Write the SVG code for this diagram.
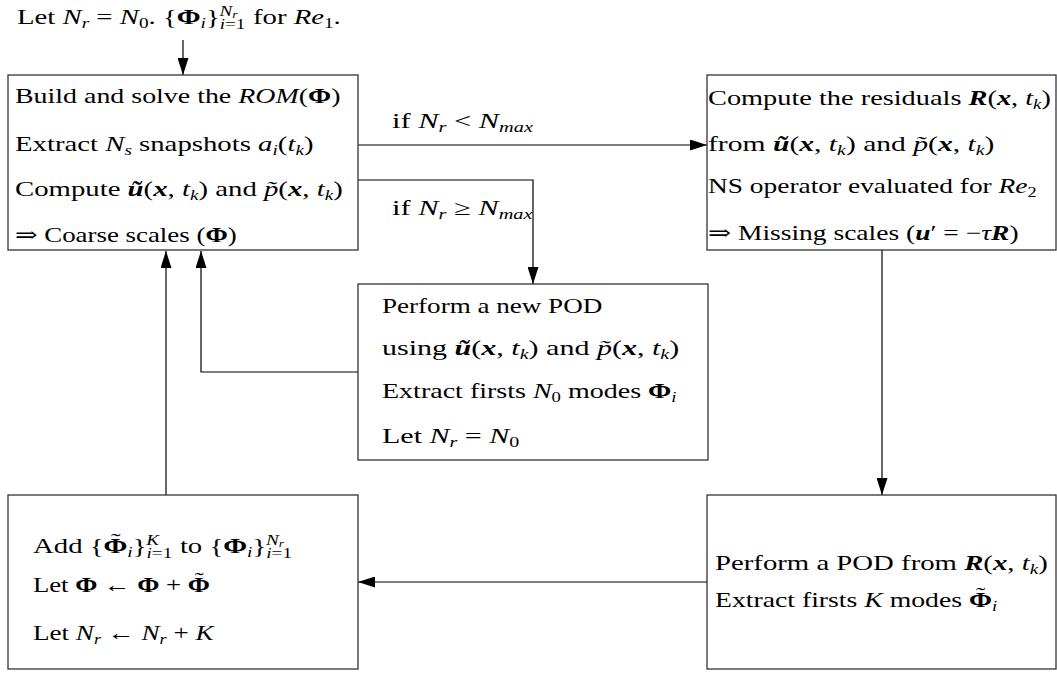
<svg xmlns="http://www.w3.org/2000/svg" width="1057" height="673" viewBox="0 0 1057 673">
<style>
text{font-family:"Liberation Serif","DejaVu Serif","Times New Roman",serif;font-size:21px;fill:#000}
.i{font-style:italic}
.b{font-weight:bold}
.bi{font-weight:bold;font-style:italic}
.s{font-size:14px}
.box{fill:#fff;stroke:#333;stroke-width:1.3}
.c{fill:none;stroke:#000;stroke-width:1.2}
</style>
<defs>
<marker id="ah" markerUnits="userSpaceOnUse" markerWidth="17" markerHeight="11" refX="17" refY="5.5" orient="auto">
<path d="M0,0 L17,5.5 L0,11 z" fill="#000"/>
</marker>
</defs>
<rect width="1057" height="673" fill="#fff"/>

<g id="connectors">
<path class="c" d="M183,40 V75" marker-end="url(#ah)"/>
<path class="c" d="M358,145 H707" marker-end="url(#ah)"/>
<path class="c" d="M358,180 H533 V284" marker-end="url(#ah)"/>
<path class="c" d="M707,582 H358" marker-end="url(#ah)"/>
<path class="c" d="M882,250 V495" marker-end="url(#ah)"/>
<path class="c" d="M166,495 V251" marker-end="url(#ah)"/>
<path class="c" d="M358,372 H201 V251" marker-end="url(#ah)"/>
<text transform="translate(392,128) scale(1.45,1)">if <tspan class="i">N</tspan><tspan class="s i" dy="4">r</tspan><tspan dy="-4"> &lt; </tspan><tspan class="i">N</tspan><tspan class="s i" dy="4">max</tspan></text>
<text transform="translate(392,215) scale(1.45,1)">if <tspan class="i">N</tspan><tspan class="s i" dy="4">r</tspan><tspan dy="-4"> ≥ </tspan><tspan class="i">N</tspan><tspan class="s i" dy="4">max</tspan></text>
</g>

<g id="start">
<text transform="translate(17,24) scale(1.37,1)">Let <tspan class="i">N</tspan><tspan class="s i" dy="4">r</tspan><tspan dy="-4"> = </tspan><tspan class="i">N</tspan><tspan class="s" dy="4">0</tspan><tspan dy="-4">. {</tspan><tspan class="b">Φ</tspan><tspan class="s i" dy="4">i</tspan><tspan dy="-4">}</tspan><tspan class="s" dy="5"><tspan class="i">i</tspan>=1</tspan><tspan class="s i" dx="-19" dy="-13">N</tspan><tspan class="s i" style="font-size:10px" dy="2">r</tspan><tspan dx="6" dy="6"> for </tspan><tspan class="i">Re</tspan><tspan class="s" dy="4">1</tspan><tspan dy="-4">.</tspan></text>
</g>

<g id="rom">
<rect class="box" x="8" y="75" width="350" height="175"/>
<text transform="translate(15,103) scale(1.33,1)">Build and solve the <tspan class="i">ROM</tspan>(<tspan class="b">Φ</tspan>)</text>
<text transform="translate(15,151) scale(1.37,1)">Extract <tspan class="i">N</tspan><tspan class="s i" dy="4">s</tspan><tspan dy="-4"> snapshots </tspan><tspan class="i">a</tspan><tspan class="s i" dy="4">i</tspan><tspan dy="-4">(</tspan><tspan class="i">t</tspan><tspan class="s i" dy="4">k</tspan><tspan dy="-4">)</tspan></text>
<text transform="translate(15,196) scale(1.37,1)">Compute <tspan class="bi">ũ</tspan>(<tspan class="bi">x</tspan>, <tspan class="i">t</tspan><tspan class="s i" dy="4">k</tspan><tspan dy="-4">) and </tspan><tspan class="i">p̃</tspan>(<tspan class="bi">x</tspan>, <tspan class="i">t</tspan><tspan class="s i" dy="4">k</tspan><tspan dy="-4">)</tspan></text>
<text transform="translate(15,242) scale(1.28,1)">⇒ Coarse scales (<tspan class="b">Φ</tspan>)</text>
</g>

<g id="residuals">
<rect class="box" x="707" y="75" width="349" height="175"/>
<text transform="translate(708,105) scale(1.35,1)">Compute the residuals <tspan class="bi">R</tspan>(<tspan class="bi">x</tspan>, <tspan class="i">t</tspan><tspan class="s i" dy="4">k</tspan><tspan dy="-4">)</tspan></text>
<text transform="translate(708,151) scale(1.41,1)">from <tspan class="bi">ũ</tspan>(<tspan class="bi">x</tspan>, <tspan class="i">t</tspan><tspan class="s i" dy="4">k</tspan><tspan dy="-4">) and </tspan><tspan class="i">p̃</tspan>(<tspan class="bi">x</tspan>, <tspan class="i">t</tspan><tspan class="s i" dy="4">k</tspan><tspan dy="-4">)</tspan></text>
<text transform="translate(708,193) scale(1.305,1)">NS operator evaluated for <tspan class="i">Re</tspan><tspan class="s" dy="4">2</tspan></text>
<text transform="translate(708,240) scale(1.31,1)">⇒ Missing scales (<tspan class="bi">u</tspan>′ = −<tspan class="i">τ</tspan><tspan class="bi">R</tspan>)</text>
</g>

<g id="newpod">
<rect class="box" x="358" y="284" width="350" height="176"/>
<text transform="translate(382,313) scale(1.29,1)">Perform a new POD</text>
<text transform="translate(382,355) scale(1.43,1)">using <tspan class="bi">ũ</tspan>(<tspan class="bi">x</tspan>, <tspan class="i">t</tspan><tspan class="s i" dy="4">k</tspan><tspan dy="-4">) and </tspan><tspan class="i">p̃</tspan>(<tspan class="bi">x</tspan>, <tspan class="i">t</tspan><tspan class="s i" dy="4">k</tspan><tspan dy="-4">)</tspan></text>
<text transform="translate(382,398) scale(1.335,1)">Extract firsts <tspan class="i">N</tspan><tspan class="s" dy="4">0</tspan><tspan dy="-4"> modes </tspan><tspan class="b">Φ</tspan><tspan class="s i" dy="4">i</tspan></text>
<text transform="translate(382,443) scale(1.43,1)">Let <tspan class="i">N</tspan><tspan class="s i" dy="4">r</tspan><tspan dy="-4"> = </tspan><tspan class="i">N</tspan><tspan class="s" dy="4">0</tspan></text>
</g>

<g id="add">
<rect class="box" x="8" y="495" width="350" height="174"/>
<text transform="translate(33,553) scale(1.37,1)">Add {<tspan class="b">Φ</tspan><tspan dx="-12" dy="-5">˜</tspan><tspan class="s i" dx="5" dy="9">i</tspan><tspan dy="-4">}</tspan><tspan class="s" dy="5"><tspan class="i">i</tspan>=1</tspan><tspan class="s i" dx="-19" dy="-13">K</tspan><tspan dx="10" dy="8"> to {</tspan><tspan class="b">Φ</tspan><tspan class="s i" dy="4">i</tspan><tspan dy="-4">}</tspan><tspan class="s" dy="5"><tspan class="i">i</tspan>=1</tspan><tspan class="s i" dx="-19" dy="-13">N</tspan><tspan class="i" style="font-size:10px" dy="2">r</tspan></text>
<text transform="translate(33,592) scale(1.27,1)">Let <tspan class="b">Φ</tspan> ← <tspan class="b">Φ</tspan> + <tspan class="b">Φ</tspan><tspan dx="-12" dy="-5">˜</tspan></text>
<text transform="translate(33,640) scale(1.29,1)">Let <tspan class="i">N</tspan><tspan class="s i" dy="4">r</tspan><tspan dy="-4"> ← </tspan><tspan class="i">N</tspan><tspan class="s i" dy="4">r</tspan><tspan dy="-4"> + </tspan><tspan class="i">K</tspan></text>
</g>

<g id="pod">
<rect class="box" x="707" y="495" width="349" height="174"/>
<text transform="translate(715,570) scale(1.37,1)">Perform a POD from <tspan class="bi">R</tspan>(<tspan class="bi">x</tspan>, <tspan class="i">t</tspan><tspan class="s i" dy="4">k</tspan><tspan dy="-4">)</tspan></text>
<text transform="translate(715,607) scale(1.32,1)">Extract firsts <tspan class="i">K</tspan> modes <tspan class="b">Φ</tspan><tspan dx="-12" dy="-5">˜</tspan><tspan class="s i" dx="5" dy="9">i</tspan></text>
</g>
</svg>
